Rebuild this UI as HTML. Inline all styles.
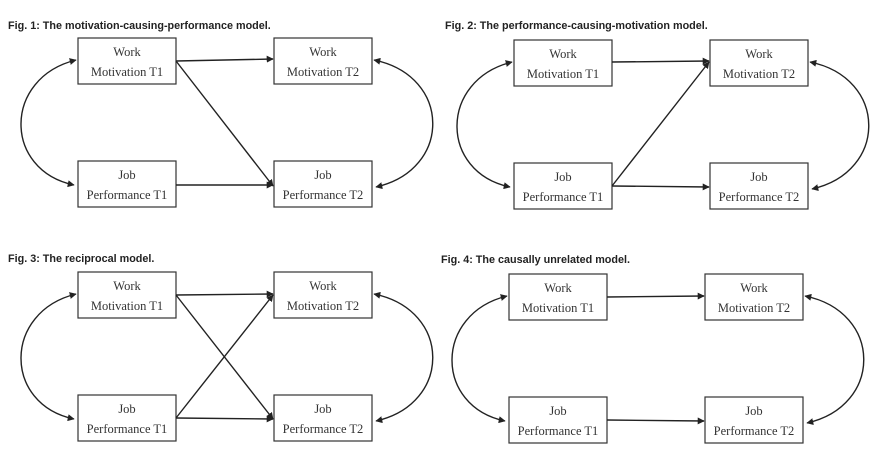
<!DOCTYPE html>
<html><head><meta charset="utf-8"><style>
html,body{margin:0;padding:0;background:#fff;width:877px;height:454px;overflow:hidden}
svg{display:block}
.t{font-family:"Liberation Sans",sans-serif;font-weight:bold;font-size:10.8px;fill:#222}
.b{font-family:"Liberation Serif",serif;font-size:12.5px;fill:#333;text-anchor:middle}
rect{fill:#fff;stroke:#333;stroke-width:1.2}
.l{stroke:#222;stroke-width:1.4;fill:none}
</style></head><body>
<svg width="877" height="454" viewBox="0 0 877 454">
<defs>
<marker id="a" viewBox="0 0 10 10" refX="9" refY="5" markerWidth="7" markerHeight="7" orient="auto-start-reverse" markerUnits="userSpaceOnUse"><path d="M0,0 L10,5 L0,10 z" fill="#222"/></marker>
<g id="base">
<rect x="0" y="0" width="98" height="46"/>
<rect x="196" y="0" width="98" height="46"/>
<rect x="0" y="123" width="98" height="46"/>
<rect x="196" y="123" width="98" height="46"/>
<text class="b" x="49" y="18">Work</text><text class="b" x="49" y="38">Motivation T1</text>
<text class="b" x="245" y="18">Work</text><text class="b" x="245" y="38">Motivation T2</text>
<text class="b" x="49" y="141">Job</text><text class="b" x="49" y="161">Performance T1</text>
<text class="b" x="245" y="141">Job</text><text class="b" x="245" y="161">Performance T2</text>
<path class="l" d="M-2,22 C-75,40 -75,132 -4,147" marker-start="url(#a)" marker-end="url(#a)"/>
<path class="l" d="M296,22 C374,38 374,132 298,149" marker-start="url(#a)" marker-end="url(#a)"/>
</g>
</defs>
<text class="t" x="8" y="29">Fig. 1: The motivation-causing-performance model.</text>
<text class="t" x="445" y="29">Fig. 2: The performance-causing-motivation model.</text>
<text class="t" x="8" y="262">Fig. 3: The reciprocal model.</text>
<text class="t" x="441" y="263">Fig. 4: The causally unrelated model.</text>

<g transform="translate(78,38)">
<use href="#base"/>
<path class="l" d="M98,23 L195,21" marker-end="url(#a)"/>
<path class="l" d="M98,147 L195,147" marker-end="url(#a)"/>
<path class="l" d="M98,23 L195,148" marker-end="url(#a)"/>
</g>
<g transform="translate(514,40)">
<use href="#base"/>
<path class="l" d="M98,22 L195,21" marker-end="url(#a)"/>
<path class="l" d="M98,146 L195,147" marker-end="url(#a)"/>
<path class="l" d="M98,146 L195,22" marker-end="url(#a)"/>
</g>
<g transform="translate(78,272)">
<use href="#base"/>
<path class="l" d="M98,23 L195,22" marker-end="url(#a)"/>
<path class="l" d="M98,146 L195,147" marker-end="url(#a)"/>
<path class="l" d="M98,23 L195,147" marker-end="url(#a)"/>
<path class="l" d="M98,146 L195,23" marker-end="url(#a)"/>
</g>
<g transform="translate(509,274)">
<use href="#base"/>
<path class="l" d="M98,23 L195,22" marker-end="url(#a)"/>
<path class="l" d="M98,146 L195,147" marker-end="url(#a)"/>
</g>
</svg>
</body></html>
